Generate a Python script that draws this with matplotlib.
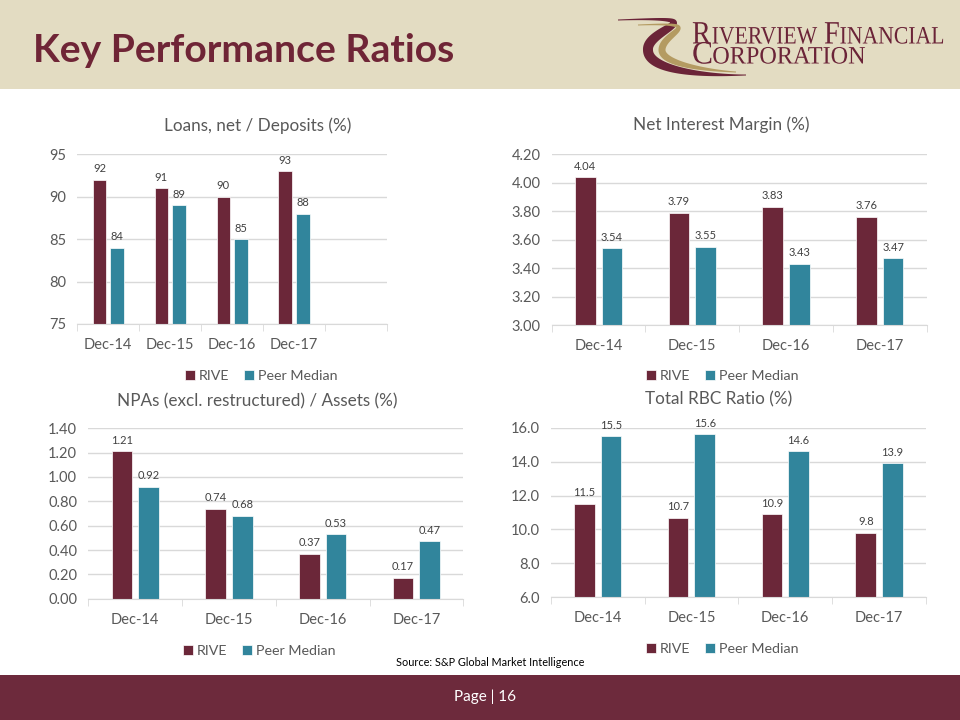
import numpy as np
import matplotlib
matplotlib.use('Agg')
import matplotlib.pyplot as plt
from matplotlib.patches import Rectangle, Polygon, PathPatch
from matplotlib.textpath import TextPath
from matplotlib.font_manager import FontProperties
from matplotlib.transforms import Affine2D

plt.rcParams['font.family'] = ['Lato', 'DejaVu Sans']

# data
periods = ['Dec-14', 'Dec-15', 'Dec-16', 'Dec-17']
series_names = ['RIVE', 'Peer Median']
loans_rive = [92, 91, 90, 93]
loans_peer = [84, 89, 85, 88]
nim_rive = [4.04, 3.79, 3.83, 3.76]
nim_peer = [3.54, 3.55, 3.43, 3.47]
npa_rive = [1.21, 0.74, 0.37, 0.17]
npa_peer = [0.92, 0.68, 0.53, 0.47]
rbc_rive = [11.5, 10.7, 10.9, 9.8]
rbc_peer = [15.5, 15.6, 14.6, 13.9]

RIVE_C = '#6B2739'
PEER_C = '#31859C'
GRID_C = '#D9D9D9'
TEXT_C = '#595959'
MAROON = '#6D2A3C'

fig = plt.figure(figsize=(9.6, 7.2), dpi=100)

# background layer in pixel units (y down)
bg = fig.add_axes([0, 0, 1, 1])
bg.set_xlim(0, 960)
bg.set_ylim(720, 0)
bg.axis('off')
bg.add_patch(Rectangle((0, 0), 960, 89, color='#E3DCC2', lw=0))
bg.add_patch(Rectangle((0, 675), 960, 45, color=MAROON, lw=0))
bg.text(33, 51, 'Key Performance Ratios', ha='left', va='center',
        fontsize=28.2, fontweight='bold', color='#6F2536')
bg.text(485, 697, 'Page | 16', ha='center', va='center', fontsize=11, color='white')
bg.text(490, 663, 'Source: S&P Global Market Intelligence', ha='center', va='center',
        fontsize=7.8, color='black')


# logo: swoosh
def bez(p0, p1, p2, p3, t):
    t = t[:, None]
    return ((1 - t) ** 3) * np.array(p0) + 3 * (1 - t) ** 2 * t * np.array(p1) \
        + 3 * (1 - t) * t ** 2 * np.array(p2) + t ** 3 * np.array(p3)


def ribbon(seg1, seg2, wmax, color):
    t = np.linspace(0, 1, 60)
    pts = np.vstack([bez(*seg1, t), bez(*seg2, t)[1:]])
    s = np.linspace(0, 1, len(pts))
    d = np.gradient(pts, axis=0)
    n = np.column_stack([-d[:, 1], d[:, 0]])
    n /= np.linalg.norm(n, axis=1)[:, None]
    w = 0.5 + wmax * np.sin(np.pi * s) ** 1.3 / 2
    poly = np.vstack([pts + n * w[:, None], (pts - n * w[:, None])[::-1]])
    bg.add_patch(Polygon(poly, closed=True, color=color, lw=0))


ribbon([(618, 20), (725, 16), (646, 28), (648, 50)],
       [(648, 50), (648, 70), (700, 76), (746, 75)], 9, '#6B2438')
ribbon([(638, 25), (712, 22), (662, 32), (662, 50)],
       [(662, 50), (662, 63), (700, 70), (736, 72)], 6, '#B49B62')

serif = FontProperties(family='Liberation Serif')


def logo_line(parts, x0, x1, base):
    paths = []
    for txt, size in parts:
        if txt == ' ':
            paths.append((None, 7))
        else:
            tp = TextPath((0, 0), txt, size=size, prop=serif)
            paths.append((tp, tp.get_extents().x1 + 1))
    total = sum(a for _, a in paths)
    sx = (x1 - x0) / total
    x = x0
    for tp, adv in paths:
        if tp is not None:
            tr = Affine2D().scale(sx, -1).translate(x, base)
            bg.add_patch(PathPatch(tr.transform_path(tp), color='#6B2438', lw=0))
        x += adv * sx


logo_line([('R', 32.6), ('IVERVIEW', 25), (' ', 25), ('F', 32.6), ('INANCIAL', 25)],
          692, 944, 43.5)
logo_line([('C', 32.6), ('ORPORATION', 25)], 692, 866, 63.5)


def px_axes(x0, y0, x1, y1):
    return fig.add_axes([x0 / 960, 1 - y1 / 720, (x1 - x0) / 960, (y1 - y0) / 720])


def draw(ax, rive, peer, yticks, fmt, ncat, title, tx, ty, lx, ly):
    x = np.arange(len(periods))
    w = 0.22
    off = 0.142
    ymin = yticks[0]
    b1 = ax.bar(x - off, np.array(rive) - ymin, bottom=ymin, width=w, color=RIVE_C,
                edgecolor='white', linewidth=0.5)
    b2 = ax.bar(x + off, np.array(peer) - ymin, bottom=ymin, width=w, color=PEER_C,
                edgecolor='white', linewidth=0.5)
    ax.bar_label(b1, labels=[fmt.format(v) for v in rive], padding=4, fontsize=8, color='#404040')
    ax.bar_label(b2, labels=[fmt.format(v) for v in peer], padding=4, fontsize=8, color='#404040')
    ax.set_xlim(-0.5, ncat - 0.5)
    ax.set_ylim(yticks[0], yticks[-1])
    ax.set_xticks(x)
    ax.set_xticklabels(periods)
    ax.set_xticks(np.arange(-0.5, ncat), minor=True)
    ax.tick_params(axis='x', which='major', length=0, pad=10, labelsize=10.5, labelcolor=TEXT_C)
    ax.tick_params(axis='x', which='minor', length=5, color=GRID_C)
    ax.set_yticks(yticks)
    ax.set_yticklabels([fmt.format(v) for v in yticks])
    ax.tick_params(axis='y', length=0, pad=8, labelsize=10.5, labelcolor=TEXT_C)
    ax.grid(axis='y', color=GRID_C, lw=1)
    ax.set_axisbelow(True)
    for sp in ['top', 'right', 'left']:
        ax.spines[sp].set_visible(False)
    ax.spines['bottom'].set_color(GRID_C)
    fig.text(tx / 960, 1 - ty / 720, title, ha='center', va='center', fontsize=12.3, color=TEXT_C)
    fig.legend([b1, b2], series_names, loc='center', bbox_to_anchor=(lx / 960, 1 - ly / 720),
               ncol=2, frameon=False, handlelength=0.7, handleheight=0.7, handletextpad=0.3,
               columnspacing=1.0, fontsize=10.3, labelcolor=TEXT_C)


ax1 = px_axes(77.3, 154.3, 387, 324)
draw(ax1, loans_rive, loans_peer, [75, 80, 85, 90, 95], '{:.0f}', 5,
     'Loans, net / Deposits (%)', 258, 126, 261, 376)

ax2 = px_axes(551.7, 154.3, 926.7, 325)
draw(ax2, nim_rive, nim_peer, [3.0, 3.2, 3.4, 3.6, 3.8, 4.0, 4.2], '{:.2f}', 4,
     'Net Interest Margin (%)', 721, 125, 722, 376)

ax3 = px_axes(88.3, 428.3, 463.3, 598.7)
draw(ax3, npa_rive, npa_peer, [0.0, 0.2, 0.4, 0.6, 0.8, 1.0, 1.2, 1.4], '{:.2f}', 4,
     'NPAs (excl. restructured) / Assets (%)', 257, 401, 259, 651)

ax4 = px_axes(550.7, 427.7, 926, 597.3)
draw(ax4, rbc_rive, rbc_peer, [6.0, 8.0, 10.0, 12.0, 14.0, 16.0], '{:.1f}', 4,
     'Total RBC Ratio (%)', 719, 399, 722, 649)

fig.savefig('out.png', dpi=100)
